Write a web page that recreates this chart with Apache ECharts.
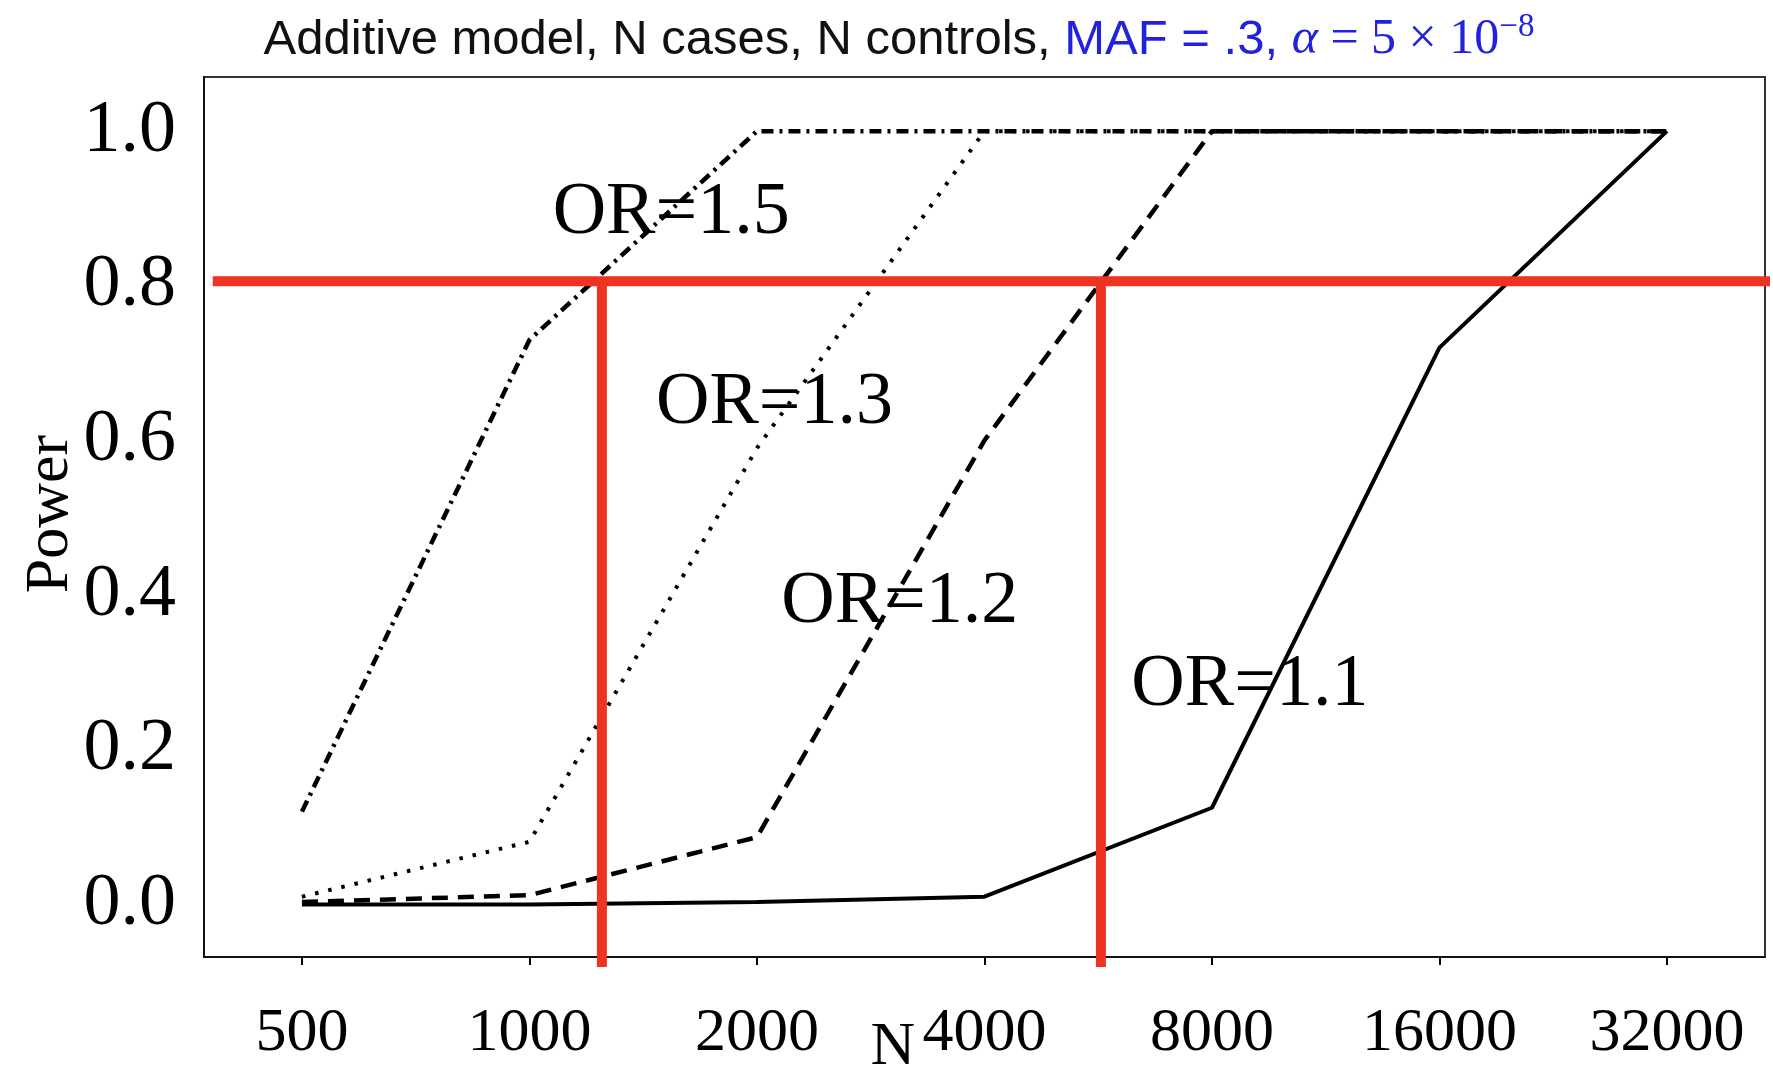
<!DOCTYPE html>
<html>
<head>
<meta charset="utf-8">
<script src="https://cdn.jsdelivr.net/npm/echarts@6/dist/echarts.min.js"></script>
<style>
  html, body { margin: 0; padding: 0; background: #fff; }
  #main { width: 1773px; height: 1069px; }
</style>
</head>
<body>
<div id="main"></div>
<script>
// sample sizes (N cases = N controls) and power per odds ratio
const sampleSizes = [500, 1000, 2000, 4000, 8000, 16000, 32000]
const powerOR15 = [0.12, 0.73, 1.0, 1.0, 1.0, 1.0, 1.0]
const powerOR13 = [0.01, 0.081, 0.59, 1.0, 1.0, 1.0, 1.0]
const powerOR12 = [0.003, 0.012, 0.087, 0.60, 1.0, 1.0, 1.0]
const powerOR11 = [0.0, 0.0, 0.003, 0.01, 0.125, 0.72, 1.0]
const yTicks = [0, 0.2, 0.4, 0.6, 0.8, 1.0]

const curveNames = ['OR=1.5', 'OR=1.3', 'OR=1.2', 'OR=1.1']
const labelN = [1540, 2110, 3090, 8980]
const labelPower = [0.893, 0.648, 0.39, 0.283]

// red guide lines: power 0.8 and the N where OR=1.5 / OR=1.2 reach it
const targetPower = 0.806
const targetN = [1247, 5704]
const guideSpanN = [381, 44200]
const guideBottom = -0.081

const main = document.getElementById('main')
const myChart = echarts.init(main)

const powers = [powerOR15, powerOR13, powerOR12, powerOR11]
const lineTypes = [[12, 6, 3, 6], [3.5, 10], [16, 10], 'solid']
const lineWidths = [4.5, 4, 4.5, 4]

const serif = 'Liberation Serif'
const red = '#ee3322'

const curveSeries = powers.map((p, i) => ({
  type: 'line',
  name: curveNames[i],
  data: sampleSizes.map((n, j) => [n, p[j]]),
  symbol: 'none',
  lineStyle: { color: '#000', width: lineWidths[i], type: lineTypes[i], cap: 'butt' },
  markPoint: {
    symbol: 'rect',
    symbolSize: 1,
    itemStyle: { color: 'rgba(0,0,0,0)' },
    label: {
      show: true,
      position: 'inside',
      formatter: curveNames[i],
      fontFamily: serif,
      fontSize: 74,
      color: '#000'
    },
    data: [{ coord: [labelN[i], labelPower[i]] }]
  },
  z: 3
}))

const guideStyle = { color: red, width: 10, type: 'solid', cap: 'butt' }
const guideSeries = [
  [[guideSpanN[0], targetPower], [guideSpanN[1], targetPower]],
  [[targetN[0], targetPower], [targetN[0], guideBottom]],
  [[targetN[1], targetPower], [targetN[1], guideBottom]]
].map(d => ({
  type: 'line',
  data: d,
  symbol: 'none',
  clip: false,
  lineStyle: guideStyle,
  z: 5
}))

myChart.setOption({
  animation: false,
  backgroundColor: '#fff',
  grid: {
    left: 204, right: 8, top: 77, bottom: 112,
    show: true, borderColor: '#333', borderWidth: 2,
    outerBoundsMode: 'none'
  },
  xAxis: {
    type: 'log',
    logBase: 2,
    min: 371,
    max: 43140,
    axisLine: { show: true, onZero: false, lineStyle: { color: '#111', width: 2 } },
    axisTick: { show: true, customValues: sampleSizes, length: 8, lineStyle: { color: '#000', width: 2 } },
    axisLabel: {
      customValues: sampleSizes,
      formatter: v => String(Math.round(v)),
      fontFamily: serif, fontSize: 62, color: '#000', margin: 46
    },
    splitLine: { show: false },
    minorTick: { show: false }
  },
  yAxis: {
    type: 'value',
    min: -0.068,
    max: 1.07,
    axisLine: { show: true, lineStyle: { color: '#111', width: 2 } },
    axisTick: { show: false },
    axisLabel: {
      customValues: yTicks,
      formatter: v => v.toFixed(1),
      fontFamily: serif, fontSize: 74, color: '#000', margin: 28
    },
    splitLine: { show: false }
  },
  graphic: [
    {
      type: 'text', x: 899, y: 40,
      style: {
        text: '{a|Additive model, N cases, N controls, }{b|MAF = .3, }{c|α}{d| = 5 × 10}{e|−8}',
        align: 'center', verticalAlign: 'middle',
        rich: {
          a: { fontFamily: 'Liberation Sans', fontSize: 49, fill: '#111' },
          b: { fontFamily: 'Liberation Sans', fontSize: 49, fill: '#2222dd' },
          c: { fontFamily: serif, fontStyle: 'italic', fontSize: 50, fill: '#2222dd' },
          d: { fontFamily: serif, fontSize: 50, fill: '#2222dd' },
          e: { fontFamily: serif, fontSize: 33, fill: '#2222dd', verticalAlign: 'top', padding: [0, 0, 26, 0] }
        }
      }
    },
    {
      type: 'text', x: 51, y: 514, rotation: Math.PI / 2,
      style: { text: 'Power', fontFamily: serif, fontSize: 62, fill: '#000', align: 'center', verticalAlign: 'middle' }
    },
    {
      type: 'text', x: 893, y: 1048,
      style: { text: 'N', fontFamily: serif, fontSize: 62, fill: '#000', align: 'center', verticalAlign: 'middle' }
    }
  ],
  series: [...curveSeries, ...guideSeries]
})
</script>
</body>
</html>
